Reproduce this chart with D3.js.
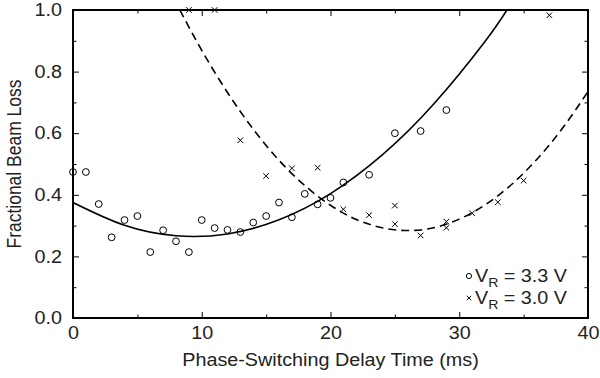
<!DOCTYPE html>
<html>
<head>
<meta charset="utf-8">
<script src="https://cdn.jsdelivr.net/npm/d3@7"></script>
<style>
  body { margin: 0; background: #fff; }
  text { font-family: "Liberation Sans", Arial, sans-serif; fill: #222; }
</style>
</head>
<body>
<div id="chart"></div>
<script>
// V_R = 3.3 V (circles)
const delay33 = [0, 1, 2, 3, 4, 5, 6, 7, 8, 9, 10, 11, 12, 13, 14, 15, 16, 17, 18, 19, 20, 21, 23, 25, 27, 29];
const loss33 = [0.474, 0.474, 0.37, 0.262, 0.318, 0.331, 0.214, 0.285, 0.249, 0.214, 0.318, 0.292, 0.286, 0.279,
    0.31, 0.331, 0.375, 0.327, 0.403, 0.369, 0.39, 0.44, 0.465, 0.60, 0.607, 0.675];

// V_R = 3.0 V (crosses)
const delay30 = [9, 11, 13, 15, 17, 19, 21, 23, 25, 25, 27, 29, 29, 31, 33, 35, 37];
const loss30 = [1.0, 1.0, 0.577, 0.461, 0.486, 0.488, 0.353, 0.334, 0.365, 0.305, 0.268, 0.313, 0.293,
    0.34, 0.376, 0.446, 0.983];

// fitted curves
const fit33X = [0, 4, 8, 12, 16, 20, 24, 28, 32, 33.7];
const fit33Y = [0.375, 0.301, 0.267, 0.273, 0.319, 0.404, 0.529, 0.694, 0.898, 1.0];
const fit30X = [8.3, 10, 12, 14, 16, 18, 20, 22, 24, 26, 28, 30, 32, 34, 36, 38, 40];
const fit30Y = [1.0, 0.869, 0.732, 0.613, 0.512, 0.430, 0.366, 0.320, 0.293, 0.284, 0.293, 0.321, 0.367,
    0.431, 0.514, 0.615, 0.735];

const xTicks = [0, 10, 20, 30, 40];
const xMinor = [5, 15, 25, 35];
const yTicks = [0, 0.2, 0.4, 0.6, 0.8, 1.0];
const yMinor = [0.1, 0.3, 0.5, 0.7, 0.9];

const width = 600;
const height = 378;
const margin = { top: 10, right: 12, bottom: 60, left: 73 };
const fontSize = 17.5;
const stretch = 1.13; // the original type is a bit wider than Liberation Sans

const svg = d3.select("#chart")
    .append("svg")
    .attr("width", width)
    .attr("height", height);

const x = d3.scaleLinear().domain([0, 40]).range([margin.left, width - margin.right]);
const y = d3.scaleLinear().domain([0, 1]).range([height - margin.bottom, margin.top]);

svg.append("clipPath")
    .attr("id", "plot-clip")
    .append("rect")
    .attr("x", x(0))
    .attr("y", y(1))
    .attr("width", x(40) - x(0))
    .attr("height", y(0) - y(1));

// ticks, all pointing inward
function tickAxis(axis, values, size, fmt) {
    return axis.tickValues(values).tickSizeInner(-size).tickSizeOuter(0).tickFormat(fmt || "");
}

svg.append("g")
    .attr("class", "labelled")
    .attr("transform", `translate(0,${y(0)})`)
    .call(tickAxis(d3.axisBottom(x), xTicks, 6, d3.format("d")).tickPadding(9));
svg.append("g")
    .attr("transform", `translate(0,${y(0)})`)
    .call(tickAxis(d3.axisBottom(x), xMinor, 3.5));
svg.append("g")
    .attr("transform", `translate(0,${y(1)})`)
    .call(tickAxis(d3.axisTop(x), xTicks, 6));
svg.append("g")
    .attr("transform", `translate(0,${y(1)})`)
    .call(tickAxis(d3.axisTop(x), xMinor, 3.5));

svg.append("g")
    .attr("class", "labelled")
    .attr("transform", `translate(${x(0)},0)`)
    .call(tickAxis(d3.axisLeft(y), yTicks, 6, d3.format(".1f")).tickPadding(11));
svg.append("g")
    .attr("transform", `translate(${x(0)},0)`)
    .call(tickAxis(d3.axisLeft(y), yMinor, 3.5));
svg.append("g")
    .attr("transform", `translate(${x(40)},0)`)
    .call(tickAxis(d3.axisRight(y), yTicks, 6));
svg.append("g")
    .attr("transform", `translate(${x(40)},0)`)
    .call(tickAxis(d3.axisRight(y), yMinor, 3.5));

svg.selectAll(".domain").remove();
svg.selectAll(".tick line").attr("stroke", "#000").attr("stroke-width", 1);
svg.selectAll(".labelled .tick text")
    .style("font-size", fontSize + "px")
    .style("font-family", "'Liberation Sans', Arial, sans-serif")
    .attr("fill", "#222")
    .attr("transform", function() {
        const tx = +d3.select(this).attr("x") || 0;
        return `translate(${tx},0) scale(${stretch},1) translate(${-tx},0)`;
    });

// frame
svg.append("rect")
    .attr("x", x(0))
    .attr("y", y(1))
    .attr("width", x(40) - x(0))
    .attr("height", y(0) - y(1))
    .attr("fill", "none")
    .attr("stroke", "#000")
    .attr("stroke-width", 2);

// fitted curves
const line = d3.line()
    .x(d => x(d[0]))
    .y(d => y(d[1]))
    .curve(d3.curveNatural);

svg.append("path")
    .datum(d3.zip(fit33X, fit33Y))
    .attr("clip-path", "url(#plot-clip)")
    .attr("fill", "none")
    .attr("stroke", "#000")
    .attr("stroke-width", 1.6)
    .attr("d", line);

svg.append("path")
    .datum(d3.zip(fit30X, fit30Y))
    .attr("clip-path", "url(#plot-clip)")
    .attr("fill", "none")
    .attr("stroke", "#000")
    .attr("stroke-width", 1.6)
    .attr("stroke-dasharray", "8,5")
    .attr("d", line);

// markers
const crossPath = s => `M${-s},${-s}L${s},${s}M${-s},${s}L${s},${-s}`;

svg.append("g")
    .selectAll("circle")
    .data(d3.zip(delay33, loss33))
    .join("circle")
    .attr("cx", d => x(d[0]))
    .attr("cy", d => y(d[1]))
    .attr("r", 3.4)
    .attr("fill", "none")
    .attr("stroke", "#000")
    .attr("stroke-width", 1);

svg.append("g")
    .selectAll("path")
    .data(d3.zip(delay30, loss30))
    .join("path")
    .attr("transform", d => `translate(${x(d[0])},${y(d[1])})`)
    .attr("d", crossPath(2.8))
    .attr("fill", "none")
    .attr("stroke", "#000")
    .attr("stroke-width", 1);

// axis titles
svg.append("g")
    .attr("transform", `translate(${(x(0) + x(40)) / 2},366) scale(${stretch},1)`)
    .append("text")
    .attr("text-anchor", "middle")
    .style("font-size", fontSize + "px")
    .text("Phase-Switching Delay Time (ms)");

svg.append("g")
    .attr("transform", `translate(21,${(y(0) + y(1)) / 2}) scale(${stretch},1) rotate(-90)`)
    .append("text")
    .attr("text-anchor", "middle")
    .style("font-size", fontSize + "px")
    .text("Fractional Beam Loss");

// legend
const legendRows = [
    { label: "3.3 V", mark: "circle", base: 282 },
    { label: "3.0 V", mark: "cross", base: 304 }
];
const legendRight = 567;

legendRows.forEach(row => {
    const g = svg.append("g")
        .attr("transform", `translate(${legendRight},${row.base}) scale(${stretch},1)`);
    const t = g.append("text")
        .attr("text-anchor", "end")
        .style("font-size", fontSize + "px");
    t.append("tspan").text("V");
    t.append("tspan").attr("dy", 5).style("font-size", "12.5px").text("R");
    t.append("tspan").attr("dy", -5).text(" = " + row.label);

    const bb = t.node().getBBox();
    const mx = legendRight + bb.x * stretch - 6;
    const my = row.base - 6;
    if (row.mark === "circle") {
        svg.append("circle")
            .attr("cx", mx).attr("cy", my).attr("r", 2.6)
            .attr("fill", "none").attr("stroke", "#000").attr("stroke-width", 1);
    } else {
        svg.append("path")
            .attr("transform", `translate(${mx},${my})`)
            .attr("d", crossPath(2.2))
            .attr("fill", "none").attr("stroke", "#000").attr("stroke-width", 1);
    }
});
</script>
</body>
</html>
